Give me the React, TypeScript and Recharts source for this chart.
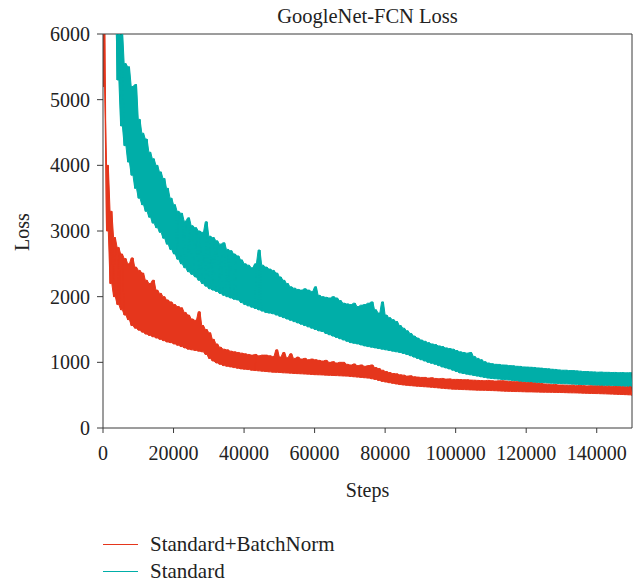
import React from 'react';
import { ComposedChart, Area, Line, XAxis, YAxis, ReferenceLine } from 'recharts';

// loss envelopes, one value per 1000 steps
// low = bottom edge of the noisy band, high = top edge (incl. spikes)
const redLow = [
  6500, 3000, 2200, 2000, 1880, 1800, 1720, 1650, 1560, 1520,
  1490, 1460, 1430, 1410, 1390, 1370, 1350, 1330, 1310, 1300,
  1280, 1260, 1240, 1220, 1200, 1190, 1180, 1170, 1160, 1120,
  1060, 1020, 990, 970, 950, 940, 930, 920, 910, 900,
  895, 890, 880, 875, 870, 865, 860, 855, 850, 848,
  845, 840, 838, 835, 830, 828, 825, 822, 820, 815,
  812, 810, 808, 805, 802, 800, 798, 795, 792, 790,
  785, 780, 775, 770, 765, 760, 750, 740, 725, 710,
  700, 690, 680, 670, 662, 655, 650, 645, 640, 636,
  632, 628, 624, 620, 615, 610, 605, 600, 596, 592,
  590, 588, 585, 583, 580, 578, 576, 575, 574, 572,
  570, 568, 565, 562, 560, 558, 556, 555, 554, 552,
  550, 550, 548, 547, 546, 545, 544, 543, 542, 541,
  540, 538, 536, 535, 534, 532, 530, 528, 526, 525,
  524, 522, 520, 518, 516, 514, 512, 510, 508, 505,
  500,
];

const redHigh = [
  5200, 4000, 3300, 2900, 2750, 2650, 2580, 2500, 2590, 2450,
  2400, 2360, 2250, 2200, 2250, 2100, 2050, 2000, 1950, 1920,
  1880, 1850, 1830, 1760, 1720, 1660, 1640, 1770, 1560, 1500,
  1450, 1350, 1280, 1230, 1200, 1190, 1170, 1160, 1150, 1140,
  1130, 1120, 1110, 1120, 1100, 1110, 1110, 1100, 1090, 1190,
  1080, 1150, 1070, 1130, 1060, 1080, 1050, 1060, 1040, 1050,
  1040, 1030, 1020, 1030, 1000, 1010, 990, 1000, 1000, 970,
  960, 975, 950, 960, 940, 950, 960, 920, 905, 880,
  860, 845, 830, 825, 810, 805, 790, 795, 780, 775,
  770, 770, 760, 765, 755, 750, 755, 745, 748, 740,
  740, 738, 735, 735, 730, 728, 725, 722, 720, 725,
  720, 715, 718, 720, 715, 710, 705, 705, 700, 695,
  690, 692, 685, 680, 678, 670, 668, 660, 662, 655,
  655, 652, 650, 652, 645, 648, 645, 640, 642, 640,
  640, 638, 635, 637, 630, 632, 630, 627, 625, 627,
  625,
];

const tealLow = [
  null, null, null, 7000, 5300, 4600, 4300, 4050, 3850, 3650,
  3500, 3400, 3300, 3210, 3120, 3050, 2980, 2890, 2800, 2720,
  2650, 2570, 2500, 2440, 2380, 2340, 2300, 2250, 2200, 2160,
  2120, 2100, 2080, 2050, 2020, 2000, 1980, 1960, 1950, 1910,
  1880, 1860, 1840, 1820, 1800, 1780, 1760, 1750, 1740, 1720,
  1700, 1680, 1660, 1640, 1620, 1600, 1580, 1560, 1540, 1520,
  1500, 1480, 1470, 1440, 1420, 1400, 1380, 1360, 1340, 1320,
  1300, 1290, 1280, 1265, 1250, 1240, 1230, 1220, 1210, 1200,
  1190, 1180, 1170, 1160, 1150, 1135, 1120, 1100, 1080, 1060,
  1040, 1020, 1000, 985, 970, 950, 930, 915, 900, 880,
  860, 840, 830, 820, 810, 800, 790, 780, 770, 760,
  755, 750, 745, 740, 735, 730, 725, 720, 710, 705,
  700, 698, 695, 692, 690, 688, 685, 682, 680, 678,
  675, 672, 670, 668, 665, 662, 660, 658, 655, 652,
  650, 648, 646, 644, 642, 640, 638, 636, 634, 632,
  630,
];

const tealHigh = [
  null, null, null, 7000, 6500, 6100, 5550, 5500, 5200, 5230,
  4700, 4490, 4400, 4200, 4100, 4000, 3900, 3800, 3650, 3500,
  3400, 3300, 3270, 3150, 3200, 3080, 3050, 3000, 2980, 3140,
  2920, 2900, 2850, 2800, 2820, 2720, 2700, 2650, 2620, 2560,
  2500, 2480, 2440, 2500, 2710, 2480, 2450, 2420, 2400, 2360,
  2300, 2250, 2200, 2150, 2130, 2110, 2100, 2120, 2100, 2080,
  2150, 2020, 2000, 1990, 1980, 2000, 1980, 1940, 1900, 1890,
  1880, 1900, 1850, 1870, 1880, 1900, 1920, 1800, 1750, 1920,
  1720, 1680, 1650, 1620, 1560, 1520, 1480, 1440, 1400, 1370,
  1340, 1320, 1300, 1280, 1270, 1250, 1240, 1220, 1210, 1200,
  1180, 1160, 1150, 1140, 1150, 1090, 1060, 1040, 1010, 990,
  980, 970, 968, 960, 958, 950, 948, 940, 938, 930,
  928, 925, 922, 915, 912, 905, 902, 895, 892, 885,
  880, 880, 875, 874, 870, 866, 860, 860, 855, 854,
  850, 852, 848, 848, 845, 846, 842, 844, 840, 842,
  840,
];

const xTicks = [0, 20000, 40000, 60000, 80000, 100000, 120000, 140000];
const yTicks = [0, 1000, 2000, 3000, 4000, 5000, 6000];

const RED = '#e5361c';
const TEAL = '#00aea8';
const AXIS = '#3a3a3a';
const FONT = '"Liberation Serif", "Times New Roman", serif';

type Row = {
  step: number;
  red: number | null;
  teal: number | null;
  redBand: number[];
  tealBand: number[] | null;
};

// zigzag between the low and high edge, plus the band itself for the fill
const data: Row[] = [];
redLow.forEach((_, i) => {
  const redBand = [redLow[i], redHigh[i]];
  const tealBand = tealLow[i] == null ? null : [tealLow[i] as number, tealHigh[i] as number];
  data.push({ step: i * 1000, red: redLow[i], teal: tealLow[i], redBand, tealBand });
  data.push({ step: i * 1000 + 500, red: redHigh[i], teal: tealHigh[i], redBand, tealBand });
});

const txt: React.CSSProperties = {
  position: 'absolute',
  fontFamily: FONT,
  color: '#222',
  whiteSpace: 'nowrap',
};

const LegendRow = ({ color, label, top }: { color: string; label: string; top: number }) => (
  <>
    <div style={{ position: 'absolute', left: 103, top, width: 35, height: 1, background: color }} />
    <div style={{ ...txt, left: 150, top: top - 13, fontSize: 21, lineHeight: '26px' }}>{label}</div>
  </>
);

export default function App() {
  return (
    <div style={{ position: 'absolute', left: 0, top: 0, width: 643, height: 583, background: '#fff' }}>
      <ComposedChart
        width={643}
        height={583}
        data={data}
        margin={{ top: 34, right: 11, left: 43, bottom: 115 }}
        style={{ fontFamily: FONT }}
      >
        <XAxis
          dataKey="step"
          type="number"
          domain={[0, 150000]}
          ticks={xTicks}
          allowDataOverflow
          height={40}
          stroke={AXIS}
          tickSize={5}
          tickMargin={13}
          tick={{ fill: '#222', fontSize: 20, fontFamily: FONT }}
        />
        <YAxis
          type="number"
          domain={[0, 6000]}
          ticks={yTicks}
          allowDataOverflow
          width={60}
          stroke={AXIS}
          tickSize={6}
          tickMargin={7}
          tick={{ fill: '#222', fontSize: 20, fontFamily: FONT }}
        />
        <ReferenceLine y={6000} stroke={AXIS} ifOverflow="visible" />
        <ReferenceLine x={150000} stroke={AXIS} ifOverflow="visible" />
        <Area
          dataKey="tealBand"
          type="linear"
          stroke={TEAL}
          strokeWidth={1}
          fill={TEAL}
          fillOpacity={1}
          activeDot={false}
          isAnimationActive={false}
        />
        <Line
          dataKey="teal"
          stroke={TEAL}
          strokeWidth={1}
          dot={false}
          activeDot={false}
          type="linear"
          isAnimationActive={false}
        />
        <Area
          dataKey="redBand"
          type="linear"
          stroke={RED}
          strokeWidth={1}
          fill={RED}
          fillOpacity={1}
          activeDot={false}
          isAnimationActive={false}
        />
        <Line
          dataKey="red"
          stroke={RED}
          strokeWidth={1}
          dot={false}
          activeDot={false}
          type="linear"
          isAnimationActive={false}
        />
      </ComposedChart>

      <div style={{ ...txt, left: 0, width: 643, top: 5, textAlign: 'center', paddingLeft: 92, boxSizing: 'border-box', fontSize: 20.5 }}>
        GoogleNet-FCN Loss
      </div>
      <div style={{ ...txt, left: 0, width: 643, top: 479, textAlign: 'center', paddingLeft: 92, boxSizing: 'border-box', fontSize: 20 }}>
        Steps
      </div>
      <div style={{ ...txt, left: 22, top: 232, fontSize: 20, transform: 'translate(-50%, -50%) rotate(-90deg)' }}>
        Loss
      </div>

      <LegendRow color={RED} label="Standard+BatchNorm" top={544} />
      <LegendRow color={TEAL} label="Standard" top={571} />
    </div>
  );
}
